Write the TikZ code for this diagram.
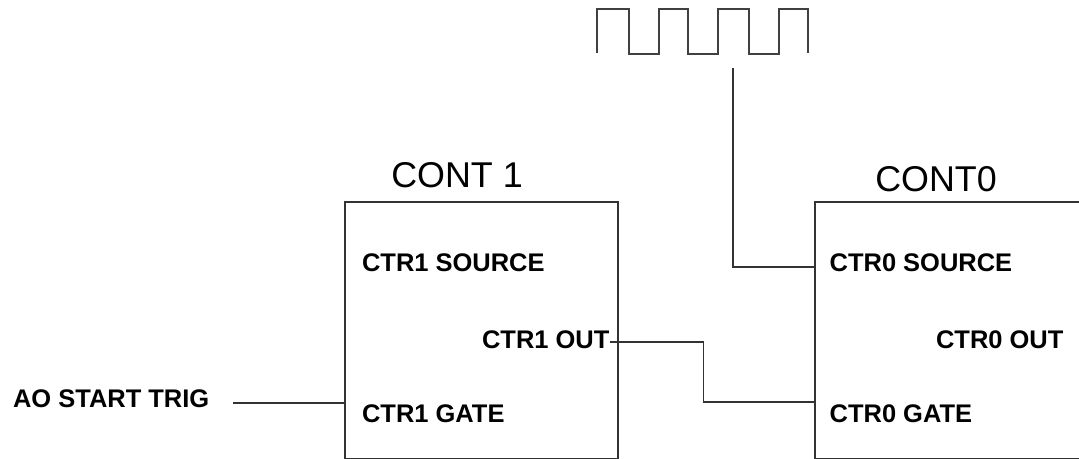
\documentclass[tikz,border=0pt]{standalone}
\usepackage{fontspec}
\setmainfont{Liberation Sans}
\begin{document}
\begin{tikzpicture}[x=0.02cm,y=-0.02cm,
  blk/.style={draw=black!80, line width=1.1pt, rectangle, inner sep=0pt, anchor=north west},
  pin/.style={font=\fontsize{14.5}{16}\selectfont\bfseries, inner sep=0pt, anchor=base west},
  ttl/.style={font=\fontsize{20.4}{22}\selectfont, inner sep=0pt, anchor=base west},
  wire/.style={draw=black!80, line width=1.1pt},
  wave/.style={draw=black!75, line width=1.5pt}]
\useasboundingbox (0,0) rectangle (1079,459);
\clip (0,0) rectangle (1079,459);
\fill[white] (0,0) rectangle (1079,459);
% blocks
\node[blk, minimum width=5.46cm, minimum height=5.14cm] (c1) at (344,201) {};
\node[blk, minimum width=6.2cm, minimum height=5.14cm] (c0) at (814,201) {};
% titles
\node[ttl] (t1) at (391,187.3) {CONT 1};
\node[ttl] (t0) at (875,191.7) {CONT0};
% pin labels
\node[pin] (src1) at (361.7,272) {CTR1 SOURCE};
\node[pin] (out1) at (481.7,349) {CTR1 OUT};
\node[pin] (gate1) at (361.7,422.7) {CTR1 GATE};
\node[pin] (src0) at (829.3,272) {CTR0 SOURCE};
\node[pin] (out0) at (935.7,349) {CTR0 OUT};
\node[pin] (gate0) at (829.3,422.7) {CTR0 GATE};
\node[pin] (aot) at (12.7,407.3) {AO START TRIG};
% connector points
\coordinate (aotR) at (233,403.3);
\coordinate (o1) at (609.5,341.7);
\coordinate (bend1) at (703.5,341.7);
\coordinate (bend2) at (703.5,402.3);
\coordinate (clk) at (733,68);
\coordinate (bend3) at (733,266.7);
% connectors
\draw[wire] (aotR) -- (aotR -| c1.west);
\draw[wire] (o1) -- (bend1) -- (bend2) -- (bend2 -| c0.west);
\draw[wire] (clk) -- (bend3) -- (bend3 -| c0.west);
% square wave
\draw[wave, line join=miter] (597,53) -- (597,9) -- (629,9) -- (629,54) -- (659,54) -- (659,9)
  -- (688,9) -- (688,54) -- (718,54) -- (718,9) -- (749,9) -- (749,54) -- (779,54)
  -- (779,9) -- (808,9) -- (808,53);
\end{tikzpicture}
\end{document}
